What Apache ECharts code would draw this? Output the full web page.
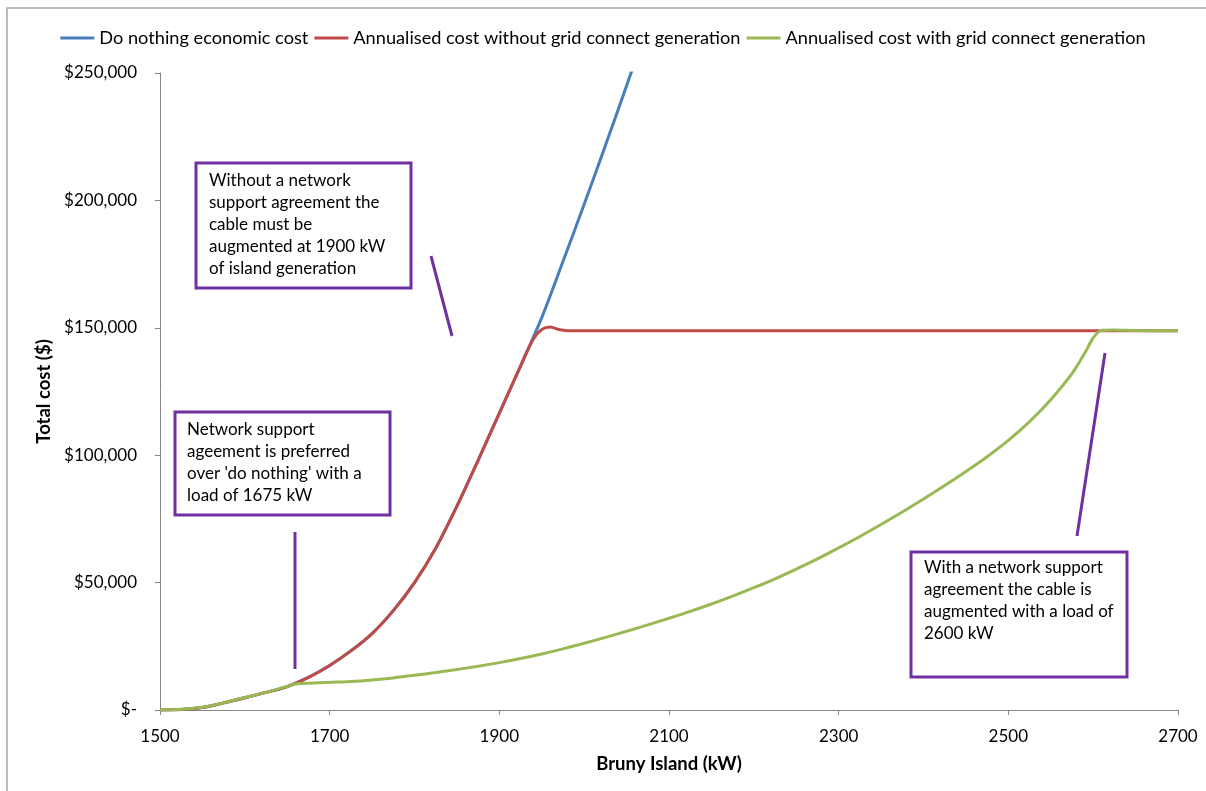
<!DOCTYPE html>
<html>
<head>
<meta charset="utf-8">
<script src="https://cdn.jsdelivr.net/npm/echarts@6/dist/echarts.min.js"></script>
<style>
html,body{margin:0;padding:0;background:#ffffff;}
#chart{width:1206px;height:791px;}
</style>
</head>
<body>
<div id="chart"></div>
<script>
// ---------- DATA ----------
const seriesNames = [
  'Do nothing economic cost',
  'Annualised cost without grid connect generation',
  'Annualised cost with grid connect generation'
];

const doNothingKW   = [1500,1525,1550,1575,1600,1625,1650,1675,1700,1725,1750,1775,1800,1825,1850,1875,1900,1925,1950,1975,2000,2025,2050,2075];
const doNothingCost = [0,200,1000,2800,4800,6900,9200,12800,17500,23200,30000,39000,50000,63500,80000,98000,116500,135000,154000,176000,198500,221500,245000,269000];

const withoutGridKW   = [1500,1525,1550,1575,1600,1625,1650,1675,1700,1725,1750,1775,1800,1825,1850,1875,1900,1925,1940,1950,1960,1970,1980,2000,2100,2200,2300,2400,2500,2600,2700];
const withoutGridCost = [0,200,1000,2800,4800,6900,9200,12800,17500,23200,30000,39000,50000,63500,80000,98000,116500,135000,145500,149300,150300,149300,148860,148860,148860,148860,148860,148860,148860,148860,148860];

const withGridKW   = [1500,1525,1550,1575,1600,1625,1650,1660,1675,1700,1725,1750,1775,1800,1825,1850,1875,1900,1925,1950,1975,2000,2025,2050,2075,2100,2125,2150,2175,2200,2225,2250,2275,2300,2325,2350,2375,2400,2425,2450,2475,2500,2525,2550,2575,2590,2600,2610,2625,2650,2700];
const withGridCost = [0,300,1100,2800,4900,6900,9300,10200,10500,10850,11200,11800,12600,13600,14700,15900,17200,18600,20200,22000,24000,26200,28500,30900,33400,36000,38700,41600,44700,48000,51500,55300,59300,63600,68100,72800,77700,82800,88100,93600,99400,105800,113200,121800,132000,140000,146000,149000,149100,148900,148860];

const xTickLabels = ['1500','1700','1900','2100','2300','2500','2700'];
const yTickLabels = ['$-','$50,000','$100,000','$150,000','$200,000','$250,000'];

const annotationTexts = [
  ['Without a network','support agreement the','cable must be','augmented at 1900 kW','of island generation'],
  ['Network support','ageement is preferred',"over 'do nothing' with a",'load of 1675 kW'],
  ['With a network support','agreement the cable is','augmented with a load of','2600 kW']
];

// ---------- CHART ----------
const FONT = 'Lato';
const colors = ['#4A7EBB', '#BE4B48', '#98B954'];
const purple = '#7030A0';

function pairs(xs, ys) { return xs.map((x, i) => [x, ys[i]]); }

const chart = echarts.init(document.getElementById('chart'), null, {renderer: 'canvas'});

function box(x, y, w, h, lines, tx, ty) {
  return [
    {type: 'rect', shape: {x: x, y: y, width: w, height: h},
     style: {fill: '#fff', stroke: purple, lineWidth: 3}, z: 100},
    {type: 'text', x: tx, y: ty, z: 101,
     style: {text: lines.join('\n'), fill: '#000', font: '17px ' + FONT, lineHeight: 22, textVerticalAlign: 'top'}}
  ];
}
function seg(x1, y1, x2, y2) {
  return {type: 'line', z: 100, shape: {x1: x1, y1: y1, x2: x2, y2: y2},
          style: {stroke: purple, lineWidth: 3}};
}

const option = {
  animation: false,
  backgroundColor: '#ffffff',
  textStyle: {fontFamily: FONT},
  color: colors,
  legend: {
    top: 24, left: 'center',
    itemGap: 6, itemWidth: 34, itemHeight: 3,
    icon: 'rect',
    textStyle: {fontFamily: FONT, fontSize: 18.2, color: '#000'},
    data: seriesNames
  },
  grid: {left: 160, right: 28, top: 73, bottom: 81, containLabel: false},
  xAxis: {
    type: 'value', min: 1500, max: 2700, interval: 200,
    name: 'Bruny Island (kW)', nameLocation: 'middle', nameGap: 45,
    nameTextStyle: {fontFamily: FONT, fontSize: 18.5, fontWeight: 'bold', color: '#000'},
    axisLine: {show: true, lineStyle: {color: '#868686', width: 1}},
    axisTick: {show: true, length: 5, lineStyle: {color: '#868686'}},
    axisLabel: {fontFamily: FONT, fontSize: 17, color: '#000', margin: 18,
      formatter: v => xTickLabels[Math.round((v - 1500) / 200)]},
    splitLine: {show: false}
  },
  yAxis: {
    type: 'value', min: 0, max: 250000, interval: 50000,
    name: 'Total cost ($)', nameLocation: 'middle', nameGap: 106,
    nameRotate: 90,
    nameTextStyle: {fontFamily: FONT, fontSize: 18.5, fontWeight: 'bold', color: '#000'},
    axisLine: {show: true, lineStyle: {color: '#868686', width: 1}},
    axisTick: {show: true, length: 5, lineStyle: {color: '#868686'}},
    axisLabel: {fontFamily: FONT, fontSize: 17, color: '#000', margin: 23,
      formatter: v => yTickLabels[Math.round(v / 50000)]},
    splitLine: {show: false}
  },
  series: [
    {name: seriesNames[0], type: 'line', data: pairs(doNothingKW, doNothingCost),
     symbol: 'none', smooth: 0.3, clip: true, lineStyle: {width: 3, color: colors[0]}, z: 2},
    {name: seriesNames[1], type: 'line', data: pairs(withoutGridKW, withoutGridCost),
     symbol: 'none', smooth: 0.3, clip: true, lineStyle: {width: 3, color: colors[1]}, z: 3},
    {name: seriesNames[2], type: 'line', data: pairs(withGridKW, withGridCost),
     symbol: 'none', smooth: 0.3, clip: true, lineStyle: {width: 3, color: colors[2]}, z: 4}
  ],
  graphic: [
    {type: 'rect', shape: {x: 7, y: 8, width: 1220, height: 800},
     style: {fill: 'none', stroke: '#a6a6a6', lineWidth: 1.5}, z: 0, silent: true},
    ...box(196, 163, 215, 125, annotationTexts[0], 209, 170),
    seg(431, 256, 452, 336),
    ...box(175, 412, 215, 103, annotationTexts[1], 187, 419),
    seg(295, 532, 295, 669),
    ...box(911, 552, 216, 125, annotationTexts[2], 924, 557),
    seg(1105, 353, 1077, 536)
  ]
};
chart.setOption(option);
</script>
</body>
</html>
